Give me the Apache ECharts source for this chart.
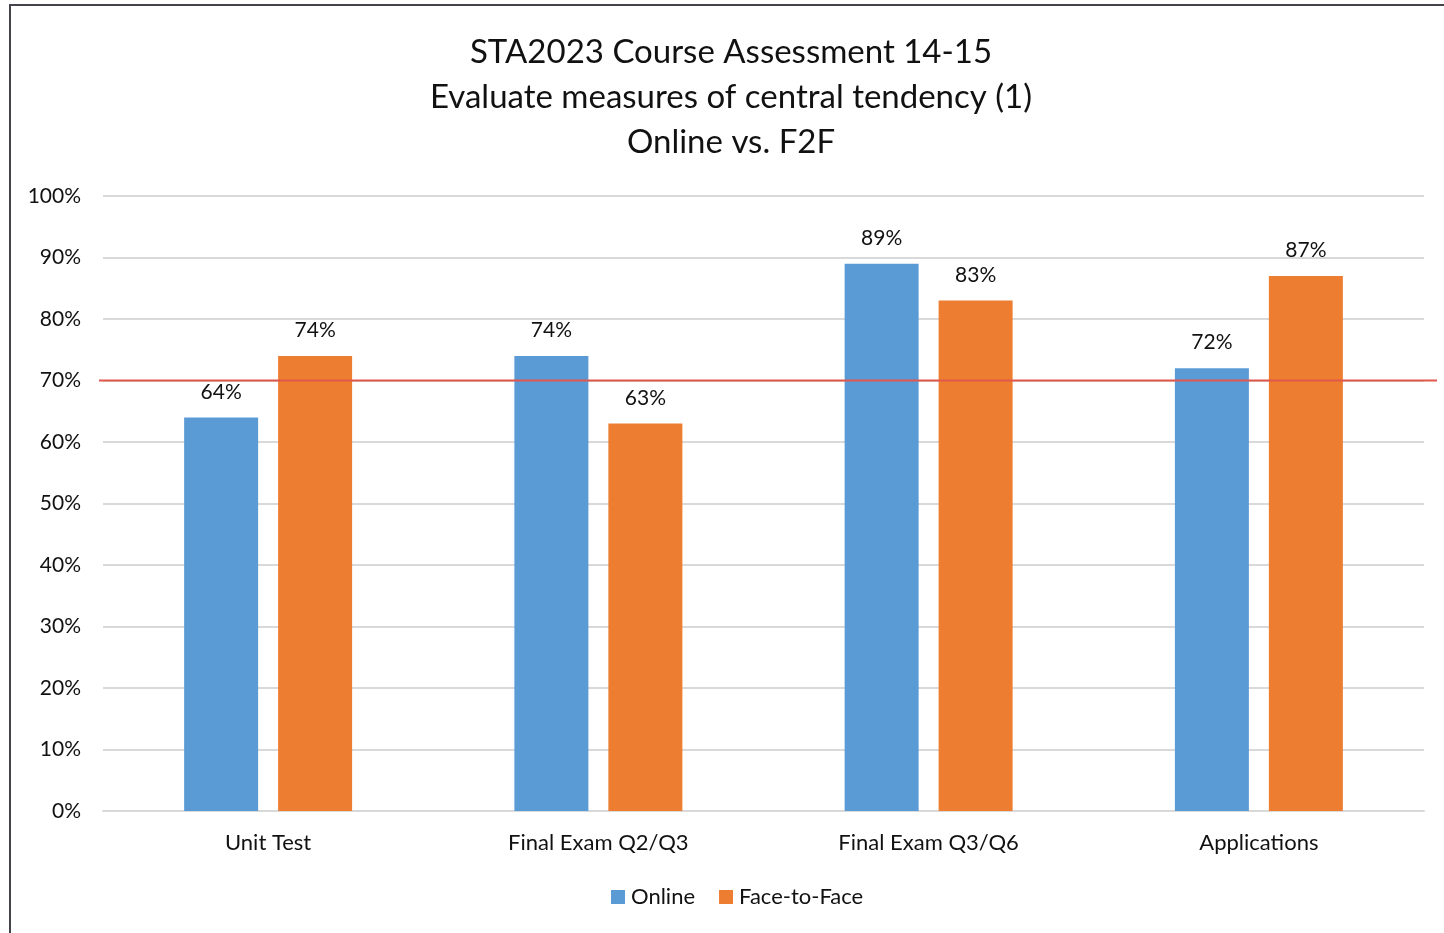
<!DOCTYPE html>
<html>
<head>
<meta charset="utf-8">
<script src="https://cdn.jsdelivr.net/npm/echarts@6/dist/echarts.min.js"></script>
<style>
html,body{margin:0;padding:0;background:#fff;overflow:hidden;}
#c{width:1444px;height:933px;}
</style>
</head>
<body>
<div id="c"></div>
<script>
const categories = ['Unit Test', 'Final Exam Q2/Q3', 'Final Exam Q3/Q6', 'Applications'];
const online = [64, 74, 89, 72];
const faceToFace = [74, 63, 83, 87];
const threshold = 70;
const titleLines = ['STA2023 Course Assessment 14-15', 'Evaluate measures of central tendency (1)', 'Online vs. F2F'];

const FONT = 'Lato, "Open Sans", sans-serif';
const chart = echarts.init(document.getElementById('c'), null, {renderer: 'canvas'});
chart.setOption({
  backgroundColor: '#fff',
  animation: false,
  textStyle: {fontFamily: FONT},
  graphic: [{
    type: 'rect', z: -1, silent: true,
    shape: {x: 10, y: 5, width: 1600, height: 1200},
    style: {fill: 'none', stroke: '#44444c', lineWidth: 2}
  }],
  title: {
    text: titleLines.join('\n'),
    left: 731, textAlign: 'center', top: 30,
    padding: 0,
    textStyle: {fontFamily: FONT, fontSize: 33, fontWeight: 'normal', color: '#111', lineHeight: 45}
  },
  legend: {
    bottom: 20, left: 606,
    padding: 5,
    itemWidth: 14, itemHeight: 14, itemGap: 24,
    icon: 'rect',
    data: ['Online', 'Face-to-Face'],
    textStyle: {fontFamily: FONT, fontSize: 22, color: '#111', padding: [0, 0, 0, 1]}
  },
  grid: [
    {left: 103, right: 20, top: 196, bottom: 122},
    {left: 99, right: 7, top: 196, bottom: 122}
  ],
  xAxis: [{
    type: 'category', data: categories, gridIndex: 0,
    axisLine: {show: true, lineStyle: {color: '#d9d9d9', width: 2}},
    axisTick: {show: false},
    axisLabel: {fontFamily: FONT, fontSize: 22, color: '#111', margin: 21}
  }, {
    type: 'value', gridIndex: 1, min: 0, max: 1, show: false
  }],
  yAxis: [{
    type: 'value', gridIndex: 0, min: 0, max: 100, interval: 10,
    axisLine: {show: false}, axisTick: {show: false},
    axisLabel: {formatter: '{value}%', fontFamily: FONT, fontSize: 21, color: '#111', margin: 22},
    splitLine: {lineStyle: {color: '#d9d9d9', width: 2}}
  }, {
    type: 'value', gridIndex: 1, min: 0, max: 100, show: false
  }],
  series: [{
    name: 'Online', type: 'bar', data: online,
    xAxisIndex: 0, yAxisIndex: 0,
    barWidth: 74, barGap: '27%',
    itemStyle: {color: '#5B9BD5'},
    label: {show: true, position: 'top', distance: 15, formatter: '{c}%', fontFamily: FONT, fontSize: 21, color: '#111'}
  }, {
    name: 'Face-to-Face', type: 'bar', data: faceToFace,
    xAxisIndex: 0, yAxisIndex: 0,
    barWidth: 74, barGap: '27%',
    itemStyle: {color: '#ED7D31'},
    label: {show: true, position: 'top', distance: 15, formatter: '{c}%', fontFamily: FONT, fontSize: 21, color: '#111'}
  }, {
    name: 'threshold', type: 'line',
    xAxisIndex: 1, yAxisIndex: 1,
    data: [[0, threshold], [1, threshold]],
    symbol: 'none', z: 5,
    lineStyle: {color: '#E2574C', width: 2}
  }]
});
</script>
</body>
</html>
